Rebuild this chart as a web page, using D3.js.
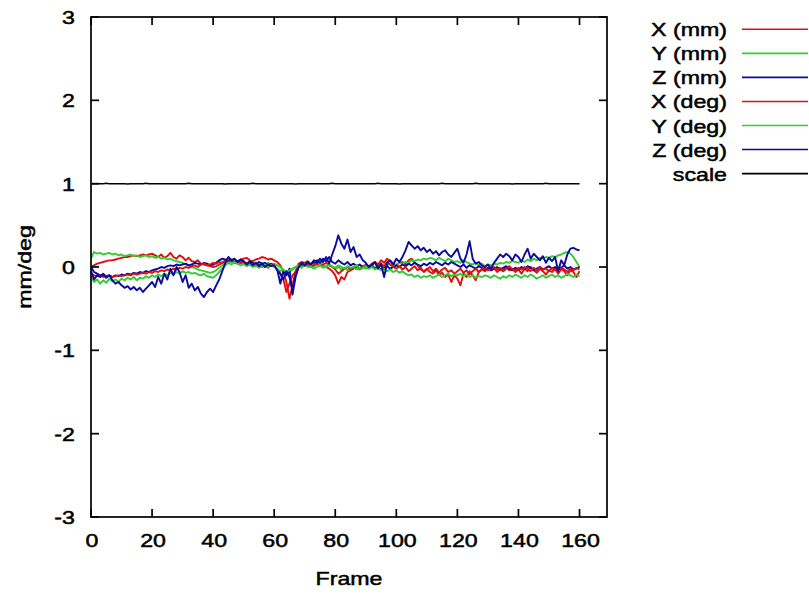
<!DOCTYPE html>
<html><head><meta charset="utf-8">
<script src="https://cdn.jsdelivr.net/npm/d3@7"></script>
<style>html,body{margin:0;padding:0;background:#fff;}svg{display:block}</style>
</head><body><svg id="c" width="809" height="596"></svg>
<script>
// ---- data ----
const frames = d3.range(0, 161);
const xTicks = [0, 20, 40, 60, 80, 100, 120, 140, 160];
const yTicks = [-3, -2, -1, 0, 1, 2, 3];
const seriesNames = ["X (mm)", "Y (mm)", "Z (mm)", "X (deg)", "Y (deg)", "Z (deg)", "scale"];
const seriesColors = ["#dd1010", "#33cc33", "#0a0aa0", "#dd1010", "#33cc33", "#0a0aa0", "#000000"];

const xMm = [
 0.00,0.02,0.04,0.05,0.06,0.07,0.08,0.08,0.09,0.10,
 0.11,0.12,0.12,0.13,0.14,0.13,0.14,0.15,0.14,0.15,
 0.16,0.14,0.12,0.15,0.11,0.13,0.17,0.12,0.10,0.14,
 0.12,0.08,0.11,0.07,0.06,0.08,0.04,0.03,0.02,0.01,
 0.00,0.01,0.03,0.05,0.08,0.10,0.09,0.08,0.07,0.09,
 0.10,0.11,0.08,0.07,0.09,0.10,0.12,0.11,0.09,0.10,
 0.08,0.06,0.02,-0.05,-0.18,-0.38,-0.22,-0.05,0.04,0.06,
 0.05,0.07,0.03,0.04,0.06,0.05,0.02,0.00,-0.02,-0.05,
 -0.10,-0.20,-0.12,-0.15,-0.06,-0.04,-0.02,0.00,-0.03,-0.01,
 0.02,0.01,0.04,0.06,0.03,0.08,0.05,0.10,0.07,0.04,
 0.02,0.05,0.06,0.03,0.08,0.10,0.05,0.02,-0.03,-0.05,
 -0.02,-0.06,-0.08,-0.04,-0.10,-0.07,-0.12,-0.09,-0.18,-0.10,
 -0.14,-0.22,-0.08,-0.12,-0.05,-0.10,-0.16,-0.06,-0.03,-0.05,
 -0.02,-0.04,-0.01,-0.06,-0.03,-0.05,0.00,-0.04,-0.02,-0.06,
 -0.03,-0.08,-0.02,-0.05,0.00,-0.04,-0.07,-0.02,-0.05,-0.09,
 -0.04,-0.06,-0.02,-0.08,-0.03,-0.05,-0.10,-0.04,-0.06,-0.12,
 -0.05];
const yMm = [
 0.10,0.18,0.16,0.17,0.15,0.16,0.17,0.15,0.16,0.14,
 0.15,0.13,0.14,0.15,0.13,0.14,0.12,0.13,0.14,0.12,
 0.13,0.11,0.12,0.10,0.11,0.09,0.10,0.08,0.07,0.06,
 0.05,0.03,0.02,0.00,-0.01,-0.03,-0.04,-0.05,-0.06,-0.07,
 -0.06,-0.04,-0.01,0.02,0.05,0.07,0.06,0.08,0.05,0.07,
 0.06,0.04,0.07,0.05,0.03,0.06,0.04,0.02,0.05,0.03,
 0.04,0.02,0.00,-0.04,-0.08,-0.06,-0.03,0.00,0.02,0.01,
 0.03,0.02,0.04,0.01,0.03,0.05,0.02,0.00,0.03,0.01,
 -0.02,0.00,-0.03,-0.01,-0.04,-0.02,0.00,-0.03,-0.01,0.01,
 -0.02,0.00,0.02,-0.01,0.01,0.03,0.00,0.02,0.04,0.01,
 0.03,0.05,0.04,0.06,0.05,0.08,0.07,0.09,0.08,0.10,
 0.09,0.11,0.10,0.08,0.11,0.09,0.07,0.10,0.08,0.06,
 0.07,0.05,0.08,0.06,0.04,0.03,0.05,0.02,0.04,0.01,
 0.03,0.02,0.04,0.03,0.05,0.04,0.06,0.05,0.07,0.06,
 0.05,0.08,0.06,0.09,0.07,0.10,0.08,0.11,0.10,0.12,
 0.11,0.13,0.12,0.14,0.15,0.17,0.18,0.16,0.12,0.06,
 0.00];
const zMm = [
 0.00,-0.06,-0.08,-0.10,-0.09,-0.11,-0.10,-0.12,-0.10,-0.11,
 -0.09,-0.10,-0.08,-0.09,-0.07,-0.08,-0.06,-0.07,-0.05,-0.06,
 -0.04,-0.03,-0.02,0.00,-0.01,0.01,0.02,0.01,0.03,0.02,
 0.03,0.04,0.02,0.03,0.05,0.04,0.03,0.05,0.04,0.02,
 0.03,0.05,0.08,0.10,0.09,0.07,0.08,0.06,0.07,0.05,
 0.06,0.04,0.07,0.05,0.03,0.06,0.04,0.05,0.02,0.04,
 0.01,-0.03,-0.20,-0.05,-0.10,-0.02,-0.33,-0.12,0.00,0.03,
 0.02,0.05,0.03,0.06,0.08,0.05,0.10,0.07,0.12,0.06,
 0.04,0.08,0.05,0.03,0.06,0.02,0.04,0.01,0.03,0.00,
 0.02,-0.01,0.01,-0.02,0.00,-0.03,-0.01,0.01,-0.02,0.00,
 0.02,0.00,0.03,0.01,0.04,0.02,0.05,0.03,0.01,0.04,
 0.02,0.05,0.03,0.06,0.04,0.02,0.05,0.03,0.06,0.04,
 0.02,0.00,0.03,-0.01,0.02,0.00,-0.02,0.01,-0.01,-0.03,
 -0.01,-0.04,-0.02,0.00,-0.03,-0.01,0.01,-0.02,-0.04,-0.01,
 -0.03,0.00,-0.02,0.01,-0.01,-0.04,-0.02,0.00,-0.03,-0.01,
 0.01,-0.02,0.00,-0.03,-0.01,0.02,-0.02,0.00,-0.03,-0.02,
 0.00];
const xDeg = [
 -0.08,-0.10,-0.11,-0.10,-0.12,-0.11,-0.10,-0.12,-0.11,-0.10,
 -0.11,-0.10,-0.09,-0.10,-0.08,-0.09,-0.08,-0.07,-0.08,-0.06,
 -0.07,-0.05,-0.06,-0.04,-0.05,-0.03,-0.04,-0.02,-0.03,-0.01,
 -0.02,0.00,-0.01,0.01,0.02,0.00,0.03,0.04,0.02,0.03,
 0.05,0.04,0.06,0.05,0.07,0.06,0.08,0.05,0.04,0.06,
 0.03,0.05,0.02,0.04,0.01,0.03,0.00,0.02,-0.01,0.03,
 0.01,-0.02,-0.08,-0.15,-0.30,-0.20,-0.10,-0.06,0.00,0.02,
 0.01,0.03,0.00,0.02,0.04,0.01,0.03,0.05,0.02,0.00,
 -0.03,-0.08,-0.05,-0.02,0.00,-0.03,-0.01,0.02,-0.02,0.00,
 0.03,-0.01,0.02,0.05,0.00,0.04,0.01,0.06,0.03,0.00,
 -0.02,0.01,-0.03,0.00,-0.05,-0.02,0.01,-0.04,-0.01,-0.06,
 -0.03,0.00,-0.05,-0.02,-0.07,-0.03,-0.01,-0.06,-0.04,-0.08,
 -0.05,-0.02,-0.07,-0.04,-0.09,-0.05,-0.02,-0.06,-0.03,-0.01,
 -0.04,-0.02,0.00,-0.03,-0.01,-0.05,-0.02,0.01,-0.03,-0.04,
 -0.01,-0.03,0.00,-0.02,-0.05,-0.01,-0.04,0.00,-0.03,-0.02,
 -0.05,-0.01,-0.04,-0.02,0.00,-0.03,-0.06,-0.02,-0.04,-0.01,
 -0.03];
const yDeg = [
 -0.12,-0.18,-0.15,-0.20,-0.16,-0.19,-0.14,-0.17,-0.15,-0.18,
 -0.14,-0.16,-0.13,-0.15,-0.12,-0.16,-0.13,-0.14,-0.11,-0.13,
 -0.10,-0.12,-0.09,-0.11,-0.08,-0.10,-0.07,-0.09,-0.06,-0.08,
 -0.05,-0.07,-0.06,-0.08,-0.07,-0.09,-0.10,-0.08,-0.11,-0.12,
 -0.13,-0.10,-0.06,-0.02,0.02,0.05,0.03,0.06,0.04,0.02,
 0.04,0.01,0.03,0.00,0.02,-0.01,0.01,0.03,0.00,0.02,
 0.00,-0.02,-0.05,-0.03,-0.06,-0.04,-0.02,0.00,0.01,-0.01,
 0.02,0.00,0.01,-0.02,0.00,0.02,-0.01,0.01,0.03,0.00,
 -0.01,0.02,0.00,-0.02,0.01,-0.01,0.00,0.02,-0.02,-0.01,
 0.01,-0.02,0.00,-0.03,-0.01,-0.04,-0.02,-0.05,-0.03,-0.06,
 -0.04,-0.07,-0.05,-0.08,-0.10,-0.09,-0.12,-0.10,-0.13,-0.11,
 -0.12,-0.10,-0.13,-0.11,-0.09,-0.12,-0.10,-0.08,-0.11,-0.09,
 -0.10,-0.08,-0.11,-0.09,-0.12,-0.10,-0.13,-0.11,-0.12,-0.10,
 -0.11,-0.13,-0.10,-0.12,-0.14,-0.11,-0.13,-0.10,-0.12,-0.09,
 -0.11,-0.13,-0.10,-0.12,-0.09,-0.11,-0.14,-0.12,-0.10,-0.13,
 -0.11,-0.09,-0.12,-0.10,-0.13,-0.11,-0.08,-0.10,-0.12,-0.09,
 -0.11];
const zDeg = [
 -0.05,-0.15,-0.10,-0.12,-0.08,-0.13,-0.10,-0.16,-0.20,-0.18,
 -0.22,-0.25,-0.23,-0.27,-0.24,-0.28,-0.25,-0.30,-0.26,-0.22,
 -0.18,-0.24,-0.12,-0.20,-0.08,-0.15,-0.02,-0.10,0.00,-0.06,
 -0.18,-0.10,-0.25,-0.20,-0.28,-0.24,-0.32,-0.36,-0.30,-0.26,
 -0.30,-0.22,-0.15,-0.05,0.05,0.12,0.08,0.10,0.06,0.09,
 0.07,0.03,0.06,0.02,0.05,0.01,0.04,0.00,0.03,0.01,
 0.02,-0.04,-0.08,-0.15,-0.05,-0.12,-0.28,-0.10,0.00,0.05,
 0.02,0.06,0.03,0.08,0.05,0.10,0.06,0.12,0.04,0.15,
 0.25,0.38,0.28,0.22,0.33,0.18,0.24,0.12,0.15,0.08,
 0.05,0.00,0.03,0.06,-0.02,0.04,-0.12,0.05,0.08,0.03,
 0.10,0.06,0.12,0.20,0.30,0.26,0.22,0.25,0.20,0.23,
 0.18,0.21,0.16,0.19,0.14,0.18,0.20,0.15,0.12,0.17,
 0.22,0.10,0.05,0.15,0.31,0.10,0.04,0.06,0.02,0.00,
 0.03,-0.02,0.05,0.10,0.15,0.12,0.16,0.13,0.08,0.15,
 0.12,0.06,0.15,0.22,0.10,0.16,0.12,0.08,0.13,0.05,
 0.11,0.07,0.12,-0.05,0.08,0.02,0.15,0.22,0.23,0.21,
 0.20];
const scaleVals = [
 1,1,1,1,1,1.004,1,1,1,1,
 1,1,0.996,1,1,1,1,1,1.004,1,
 1,1,1,1,1,1,1,1,1,1,
 1,1,1.004,1,1,1,1,1,1,1,
 1,1,1,1,0.996,1,1,1,1,1,
 1,1,1,1.004,1,1,1,1,1,1,
 1,1,1,1,1,1,1,0.996,1,1,
 1,1,1,1,1,1,1,1,1,1.004,
 1,1,1,1,1,1,1,1,1,1,
 1,1,1,1,1.004,1,1,1,1,1,
 1,0.996,1,1,1,1,1,1,1,1,
 1,1,1,1,1,1.004,1,1,1,1,
 1,1,1,1,1,1,1.004,1,1,1,
 1,1,1,1,1,1,1,1,0.996,1,
 1,1,1,1,1,1,1,1,1,1.004,
 1,1,1,1,1,1,1,1,1,1,
 1];
const seriesValues = [xMm, yMm, zMm, xDeg, yDeg, zDeg, scaleVals];

// ---- drawing ----
const FONT = "'Liberation Sans', Arial, Helvetica, sans-serif";
const FS = 19, STRETCH = 1.22;
const svg = d3.select("#c");
const L = 91, R = 607, T = 17, B = 517;
const x = d3.scaleLinear().domain([0, 169]).range([L, R]);
const y = d3.scaleLinear().domain([-3, 3]).range([B, T]);

function stext(g, str, px, py, anchor) {
  const t = g.append("text").attr("x", 0).attr("y", py).text(str)
    .attr("font-family", FONT).attr("font-size", FS).attr("fill", "#000")
    .attr("stroke", "#000").attr("stroke-width", 0.5);
  const w = t.node().getComputedTextLength() * STRETCH;
  t.attr("textLength", w).attr("lengthAdjust", "spacingAndGlyphs");
  const x0 = anchor === "end" ? px - w : anchor === "middle" ? px - w / 2 : px;
  t.attr("x", x0);
  return t;
}

svg.append("rect").attr("width", 809).attr("height", 596).attr("fill", "#fff");

// data lines
const clip = svg.append("defs").append("clipPath").attr("id", "pc");
clip.append("rect").attr("x", L).attr("y", T).attr("width", R - L).attr("height", B - T);
const line = d3.line().x((d, i) => x(frames[i])).y(d => y(d));
const gl = svg.append("g").attr("clip-path", "url(#pc)");
seriesValues.forEach((vals, k) => {
  gl.append("path").datum(vals).attr("d", line).attr("fill", "none")
    .attr("stroke", seriesColors[k]).attr("stroke-width", k === 6 ? 1.5 : 1.9)
    .attr("stroke-linejoin", "round");
});

// axes frame and ticks
const ga = svg.append("g").attr("stroke", "#000").attr("stroke-width", 1.7);
ga.append("rect").attr("x", L).attr("y", T).attr("width", R - L).attr("height", B - T).attr("fill", "none");
const TK = 8;
xTicks.forEach(v => {
  ga.append("line").attr("x1", x(v)).attr("x2", x(v)).attr("y1", B).attr("y2", B - TK);
  ga.append("line").attr("x1", x(v)).attr("x2", x(v)).attr("y1", T).attr("y2", T + TK);
});
yTicks.forEach(v => {
  ga.append("line").attr("x1", L).attr("x2", L + TK).attr("y1", y(v)).attr("y2", y(v));
  ga.append("line").attr("x1", R).attr("x2", R - TK).attr("y1", y(v)).attr("y2", y(v));
});

const gt = svg.append("g");
xTicks.forEach(v => stext(gt, String(v), x(v) + 1, 547, "middle"));
yTicks.forEach(v => stext(gt, String(v), 75, y(v) + 7, "end"));
stext(gt, "Frame", 349, 585, "middle");
const gy = svg.append("g").attr("transform", "translate(31,267) rotate(-90)");
stext(gy, "mm/deg", 0, 0, "middle");

// legend
const gLeg = svg.append("g");
seriesNames.forEach((n, i) => {
  const ly = 29.3 + i * 24.05;
  stext(gLeg, n, 727, ly + 7, "end");
  gLeg.append("line").attr("x1", 742).attr("x2", 808).attr("y1", ly).attr("y2", ly)
    .attr("stroke", seriesColors[i]).attr("stroke-width", 1.6);
});
</script></body></html>
